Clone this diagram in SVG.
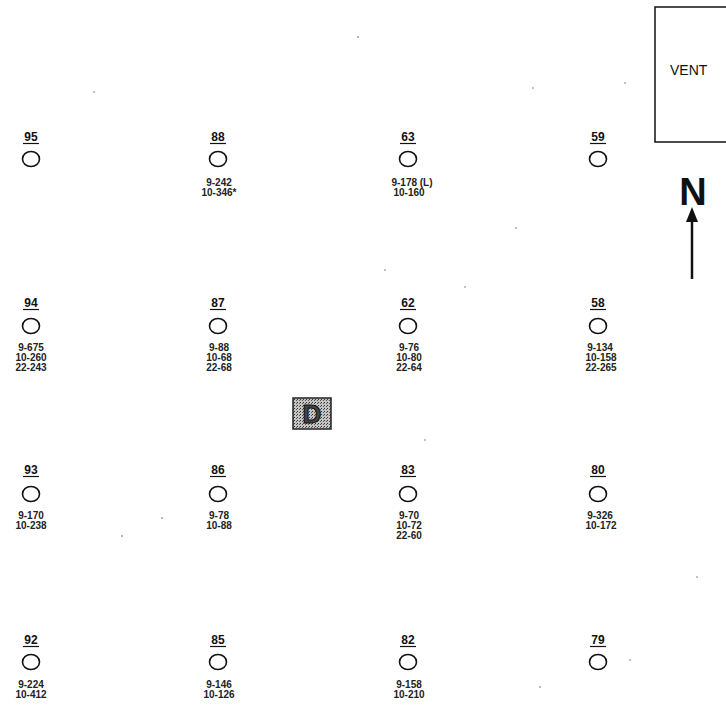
<svg xmlns="http://www.w3.org/2000/svg" width="726" height="719" viewBox="0 0 726 719">
<defs>
<style>
.lbl{font-family:"Liberation Sans",Arial,sans-serif;font-size:12px;font-weight:bold;fill:#111;text-anchor:middle}
.ul{stroke:#111;stroke-width:1.2}
.hole{fill:none;stroke:#111;stroke-width:1.6}
.dat{font-family:"Liberation Sans",Arial,sans-serif;font-size:10px;font-weight:bold;fill:#222;text-anchor:middle}
.speck{fill:#555}
</style>
<pattern id="stip" width="3" height="3" patternUnits="userSpaceOnUse">
<rect width="3" height="3" fill="#c4c4c4"/>
<rect x="0" y="0" width="1" height="1" fill="#333"/>
<rect x="2" y="1" width="1" height="1" fill="#555"/>
</pattern>
</defs>
<rect width="726" height="719" fill="#fff"/>

<g id="vent">
<rect x="655" y="7" width="80" height="135" fill="none" stroke="#111" stroke-width="1.5"/>
<text x="670" y="75" font-family="Liberation Sans,Arial,sans-serif" font-size="14" fill="#111">VENT</text>
</g>
<g id="north">
<text x="693" y="205" font-family="Liberation Sans,Arial,sans-serif" font-size="38" font-weight="bold" fill="#111" text-anchor="middle">N</text>
<line x1="692" y1="220" x2="692" y2="279" stroke="#111" stroke-width="2.5"/>
<polygon points="692,207 686,222 698,222" fill="#111"/>
</g>

<g id="D">
<rect x="293" y="398" width="38" height="31" fill="url(#stip)" stroke="#222" stroke-width="1.5"/>
<text x="312" y="423" font-family="Liberation Sans,Arial,sans-serif" font-size="26" font-weight="bold" fill="#444" stroke="#111" stroke-width="1" text-anchor="middle">D</text>
</g>

<!-- Row 1 -->
<g id="n95"><text class="lbl" x="31" y="141">95</text><line class="ul" x1="23" y1="143.5" x2="39" y2="143.5"/><ellipse class="hole" cx="31" cy="159" rx="8.5" ry="7.5"/></g>
<g id="n88"><text class="lbl" x="218" y="141">88</text><line class="ul" x1="210" y1="143.5" x2="226" y2="143.5"/><ellipse class="hole" cx="218" cy="159" rx="8.5" ry="7.5"/><text class="dat" x="219" y="186">9-242</text><text class="dat" x="219" y="196">10-346*</text></g>
<g id="n63"><text class="lbl" x="408" y="141">63</text><line class="ul" x1="400" y1="143.5" x2="416" y2="143.5"/><ellipse class="hole" cx="408" cy="159" rx="8.5" ry="7.5"/><text class="dat" x="412" y="186">9-178 (L)</text><text class="dat" x="409" y="196">10-160</text></g>
<g id="n59"><text class="lbl" x="598" y="141">59</text><line class="ul" x1="590" y1="143.5" x2="606" y2="143.5"/><ellipse class="hole" cx="598" cy="159" rx="8.5" ry="7.5"/></g>

<!-- Row 2 -->
<g id="n94"><text class="lbl" x="31" y="307">94</text><line class="ul" x1="23" y1="309.5" x2="39" y2="309.5"/><ellipse class="hole" cx="31" cy="326" rx="8.5" ry="7.5"/><text class="dat" x="31" y="351">9-675</text><text class="dat" x="31" y="361">10-260</text><text class="dat" x="31" y="371">22-243</text></g>
<g id="n87"><text class="lbl" x="218" y="307">87</text><line class="ul" x1="210" y1="309.5" x2="226" y2="309.5"/><ellipse class="hole" cx="218" cy="326" rx="8.5" ry="7.5"/><text class="dat" x="219" y="351">9-88</text><text class="dat" x="219" y="361">10-68</text><text class="dat" x="219" y="371">22-68</text></g>
<g id="n62"><text class="lbl" x="408" y="307">62</text><line class="ul" x1="400" y1="309.5" x2="416" y2="309.5"/><ellipse class="hole" cx="408" cy="326" rx="8.5" ry="7.5"/><text class="dat" x="409" y="351">9-76</text><text class="dat" x="409" y="361">10-80</text><text class="dat" x="409" y="371">22-64</text></g>
<g id="n58"><text class="lbl" x="598" y="307">58</text><line class="ul" x1="590" y1="309.5" x2="606" y2="309.5"/><ellipse class="hole" cx="598" cy="326" rx="8.5" ry="7.5"/><text class="dat" x="600" y="351">9-134</text><text class="dat" x="601" y="361">10-158</text><text class="dat" x="601" y="371">22-265</text></g>

<!-- Row 3 -->
<g id="n93"><text class="lbl" x="31" y="474">93</text><line class="ul" x1="23" y1="476.5" x2="39" y2="476.5"/><ellipse class="hole" cx="31" cy="494" rx="8.5" ry="7.5"/><text class="dat" x="31" y="519">9-170</text><text class="dat" x="31" y="529">10-238</text></g>
<g id="n86"><text class="lbl" x="218" y="474">86</text><line class="ul" x1="210" y1="476.5" x2="226" y2="476.5"/><ellipse class="hole" cx="218" cy="494" rx="8.5" ry="7.5"/><text class="dat" x="219" y="519">9-78</text><text class="dat" x="219" y="529">10-88</text></g>
<g id="n83"><text class="lbl" x="408" y="474">83</text><line class="ul" x1="400" y1="476.5" x2="416" y2="476.5"/><ellipse class="hole" cx="408" cy="494" rx="8.5" ry="7.5"/><text class="dat" x="409" y="519">9-70</text><text class="dat" x="409" y="529">10-72</text><text class="dat" x="409" y="539">22-60</text></g>
<g id="n80"><text class="lbl" x="598" y="474">80</text><line class="ul" x1="590" y1="476.5" x2="606" y2="476.5"/><ellipse class="hole" cx="598" cy="494" rx="8.5" ry="7.5"/><text class="dat" x="600" y="519">9-326</text><text class="dat" x="601" y="529">10-172</text></g>

<!-- Row 4 -->
<g id="n92"><text class="lbl" x="31" y="644">92</text><line class="ul" x1="23" y1="646.5" x2="39" y2="646.5"/><ellipse class="hole" cx="31" cy="662" rx="8.5" ry="7.5"/><text class="dat" x="31" y="688">9-224</text><text class="dat" x="31" y="698">10-412</text></g>
<g id="n85"><text class="lbl" x="218" y="644">85</text><line class="ul" x1="210" y1="646.5" x2="226" y2="646.5"/><ellipse class="hole" cx="218" cy="662" rx="8.5" ry="7.5"/><text class="dat" x="219" y="688">9-146</text><text class="dat" x="219" y="698">10-126</text></g>
<g id="n82"><text class="lbl" x="408" y="644">82</text><line class="ul" x1="400" y1="646.5" x2="416" y2="646.5"/><ellipse class="hole" cx="408" cy="662" rx="8.5" ry="7.5"/><text class="dat" x="409" y="688">9-158</text><text class="dat" x="409" y="698">10-210</text></g>
<g id="n79"><text class="lbl" x="598" y="644">79</text><line class="ul" x1="590" y1="646.5" x2="606" y2="646.5"/><ellipse class="hole" cx="598" cy="662" rx="8.5" ry="7.5"/></g>

<g id="connectors"></g>

<g id="specks">
<circle class="speck" cx="358" cy="37" r="0.8"/>
<circle class="speck" cx="94" cy="92" r="0.7"/>
<circle class="speck" cx="625" cy="83" r="0.7"/>
<circle class="speck" cx="533" cy="88" r="0.7"/>
<circle class="speck" cx="516" cy="228" r="0.7"/>
<circle class="speck" cx="385" cy="270" r="0.7"/>
<circle class="speck" cx="465" cy="287" r="0.7"/>
<circle class="speck" cx="425" cy="440" r="0.7"/>
<circle class="speck" cx="162" cy="518" r="0.8"/>
<circle class="speck" cx="122" cy="536" r="0.8"/>
<circle class="speck" cx="540" cy="687" r="0.7"/>
<circle class="speck" cx="630" cy="660" r="0.7"/>
<circle class="speck" cx="697" cy="577" r="0.7"/>
</g>
</svg>
